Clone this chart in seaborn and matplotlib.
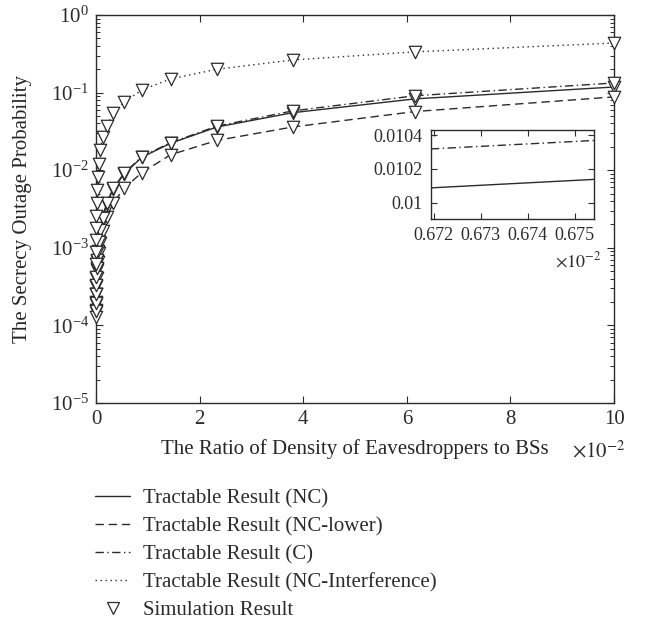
import numpy as np
import pandas as pd
import matplotlib
matplotlib.use("Agg")
import matplotlib.pyplot as plt
from matplotlib.lines import Line2D
import seaborn as sns

# ratio of eavesdropper density to BS density (simulation points)
ratio = [1.000e-5, 1.624e-5, 2.637e-5, 4.281e-5, 6.952e-5, 1.129e-4, 1.833e-4,
         2.976e-4, 4.833e-4, 7.848e-4, 1.274e-3, 2.069e-3, 3.360e-3, 5.456e-3,
         8.859e-3, 1.438e-2, 2.336e-2, 3.793e-2, 6.158e-2, 1.000e-1]

p_nc = [1.5e-4, 1.9e-4, 2.5e-4, 3.2e-4, 4.1e-4, 5.3e-4, 6.8e-4, 8.8e-4, 1.18e-3,
        1.65e-3, 2.4e-3, 3.7e-3, 5.8e-3, 9.0e-3, 1.47e-2, 2.22e-2, 3.6e-2,
        5.5e-2, 8.3e-2, 0.118]
p_nc_lower = [1.3e-4, 1.6e-4, 2.0e-4, 2.5e-4, 3.2e-4, 4.1e-4, 5.2e-4, 6.6e-4,
              8.5e-4, 1.15e-3, 1.65e-3, 2.5e-3, 3.8e-3, 5.9e-3, 9.3e-3, 1.58e-2,
              2.42e-2, 3.6e-2, 5.7e-2, 8.8e-2]
p_c = [1.53e-4, 1.94e-4, 2.55e-4, 3.27e-4, 4.19e-4, 5.42e-4, 6.96e-4, 9.0e-4,
       1.2e-3, 1.68e-3, 2.45e-3, 3.8e-3, 5.9e-3, 9.2e-3, 1.5e-2, 2.26e-2,
       3.7e-2, 5.8e-2, 9.1e-2, 0.133]
p_nc_intf = [6.2e-4, 8.8e-4, 1.25e-3, 1.8e-3, 2.6e-3, 3.8e-3, 5.6e-3, 8.2e-3,
             1.2e-2, 1.8e-2, 2.7e-2, 3.7e-2, 5.4e-2, 7.6e-2, 0.108, 0.15, 0.20,
             0.263, 0.335, 0.435]

# zoomed window (inset)
inset_ratio = [0.0067194, 0.0067541]
inset_nc = [0.010088, 0.010138]
inset_c = [0.010318, 0.010368]

labels = ["Tractable Result (NC)", "Tractable Result (NC-lower)",
          "Tractable Result (C)", "Tractable Result (NC-Interference)",
          "Simulation Result"]

ink = "#2b2b2b"
styles = {
    "nc": "-",
    "lower": (0, (6, 3.5)),
    "c": (0, (6, 2.5, 1, 2.5)),
    "intf": (0, (1, 2.6)),
}

sns.set_theme(style="ticks")
plt.rcParams["font.family"] = ["Liberation Serif", "DejaVu Serif"]
plt.rcParams["mathtext.fontset"] = "stix"
plt.rcParams["axes.edgecolor"] = ink
plt.rcParams["axes.linewidth"] = 1.0
plt.rcParams["xtick.color"] = ink
plt.rcParams["ytick.color"] = ink
plt.rcParams["text.color"] = ink

fs = 15
fs_inset = 13

fig = plt.figure(figsize=(6.5, 6.27), dpi=100)
ax = fig.add_axes([0.1477, 0.3573, 0.797, 0.6188])

x_pct = np.array(ratio) * 100
series = [(p_nc, styles["nc"]), (p_nc_lower, styles["lower"]),
          (p_c, styles["c"]), (p_nc_intf, styles["intf"])]
for vals, ls in series:
    sns.lineplot(x=x_pct, y=vals, ax=ax, color=ink, linewidth=1.0,
                 linestyle=ls, sort=False, estimator=None)
for vals, ls in series:
    sns.scatterplot(x=x_pct, y=vals, ax=ax, marker="v", s=80, color="white",
                    edgecolor=ink, linewidth=0.9, zorder=3, clip_on=False)

ax.set_yscale("log")
ax.set_xlim(0, 10)
ax.set_ylim(1e-5, 1)
ax.set_xticks([0, 2, 4, 6, 8, 10])
ax.set_yticks([1e-5, 1e-4, 1e-3, 1e-2, 1e-1, 1])
ax.tick_params(which="both", direction="in", top=True, right=True,
               labelsize=fs, pad=5)
ax.tick_params(which="major", length=5, width=0.8)
ax.tick_params(which="minor", length=3, width=0.7)
ax.set_xlabel("The Ratio of Density of Eavesdroppers to BSs", fontsize=fs,
              labelpad=7)
ax.set_ylabel("The Secrecy Outage Probability", fontsize=fs)
ax.yaxis.set_label_coords(-0.124, 0.5)
fig.text(0.962, 0.271, r"$\times10^{-2}$", fontsize=fs, ha="right", va="baseline")

# inset
ins = fig.add_axes([0.663, 0.6507, 0.2508, 0.142])
ins_x = np.array(inset_ratio) * 100
sns.lineplot(x=ins_x, y=inset_nc, ax=ins, color=ink, linewidth=1.0,
             linestyle=styles["nc"], estimator=None)
sns.lineplot(x=ins_x, y=inset_c, ax=ins, color=ink, linewidth=1.0,
             linestyle=styles["c"], estimator=None)
ins.set_xlim(ins_x[0], ins_x[1])
ins.set_ylim(0.009904, 0.01043)
ins.set_xticks([0.672, 0.673, 0.674, 0.675])
ins.set_xticklabels(["0.672", "0.673", "0.674", "0.675"])
ins.set_yticks([0.01, 0.0102, 0.0104])
ins.set_yticklabels(["0.01", "0.0102", "0.0104"])
ins.tick_params(which="both", direction="in", top=True, right=True,
                labelsize=fs_inset, length=4, width=0.8, pad=6)
ins.set_xlabel("")
ins.set_ylabel("")
fig.text(0.926, 0.575, r"$\times10^{-2}$", fontsize=fs_inset, ha="right",
         va="baseline")

handles = [
    Line2D([], [], color=ink, lw=1.0, linestyle=styles["nc"]),
    Line2D([], [], color=ink, lw=1.0, linestyle=styles["lower"]),
    Line2D([], [], color=ink, lw=1.0, linestyle=styles["c"]),
    Line2D([], [], color=ink, lw=1.0, linestyle=styles["intf"]),
    Line2D([], [], color=ink, lw=0, marker="v", markersize=8,
           markerfacecolor="white", markeredgewidth=0.9),
]
fig.legend(handles, labels, loc="upper left", bbox_to_anchor=(0.146, 0.22),
           frameon=False, fontsize=fs, handlelength=1.7, handletextpad=0.6,
           labelspacing=0.4, borderpad=0, borderaxespad=0)

fig.savefig("out.png", dpi=100)
